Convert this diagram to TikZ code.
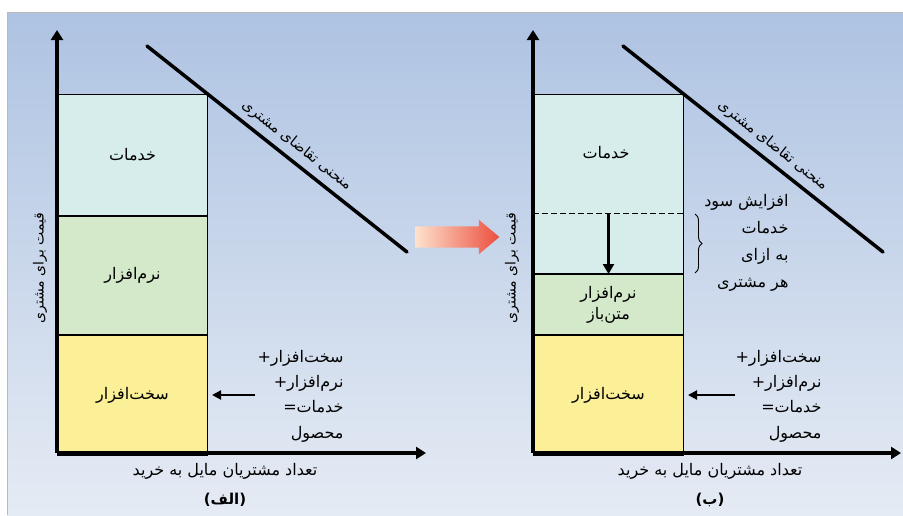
\documentclass[tikz,border=0pt]{standalone}
\usepackage{fontspec}
\newfontfamily\farsi[Script=Arabic]{DejaVu Sans}
\TeXXeTstate=1
\usetikzlibrary{arrows.meta,shapes.arrows,decorations.pathreplacing,positioning}
\definecolor{bgtop}{RGB}{174,195,226}
\definecolor{bgbottom}{RGB}{229,235,244}
\definecolor{svcfill}{RGB}{214,237,236}
\definecolor{swfill}{RGB}{212,233,202}
\definecolor{hwfill}{RGB}{251,239,152}
\definecolor{shiftlight}{RGB}{253,226,204}
\definecolor{shiftred}{RGB}{236,78,62}
\newcommand{\fatxt}[1]{{\farsi\beginR #1\endR}}

\begin{document}
\begin{tikzpicture}[x=1pt, y=-1pt,
  bar/.style={draw=black, line width=1pt, minimum width=150pt,
              inner sep=0pt, font=\farsi\fontsize{16}{21}\selectfont, align=center},
  axis/.style={line width=3.5pt, -{Triangle[width=12pt,length=10pt]}},
  demand/.style={line width=3.5pt, line cap=round},
  ptr/.style={line width=2pt, -{Triangle[width=9pt,length=9pt]}, shorten >=4pt},
  lbl/.style={font=\farsi\fontsize{16}{19}\selectfont, inner sep=1pt},
  curvelbl/.style={font=\farsi\fontsize{14.5}{17}\selectfont, inner sep=1pt},
  note/.style={font=\farsi\fontsize{16}{25.3}\selectfont, align=right, anchor=east},
  tag/.style={font=\farsi\bfseries\fontsize{15}{18}\selectfont},
]
\useasboundingbox (0,0) rectangle (903,515);
\fill[white] (0,0) rectangle (903,515);
\shade[top color=bgtop, bottom color=bgbottom] (7,12) rectangle (903,515);
\draw[gray!55, line width=0.8pt] (7,515) -- (7,12) -- (903,12);

% panel (a)
\node[bar, fill=svcfill, minimum height=121pt, anchor=north west] (svcA) at (57,94)
  {\fatxt{خدمات}};
\node[bar, fill=swfill, minimum height=118pt, below=0pt of svcA] (swA)
  {\fatxt{نرم^^^^200cافزار}};
\node[bar, fill=hwfill, minimum height=120pt, below=0pt of swA] (hwA)
  {\fatxt{سخت^^^^200cافزار}};

\coordinate (oA) at (57,453);
\coordinate (yA) at (57,30);
\coordinate (xA) at (426,453);
\draw[axis] (oA) -- (yA);
\draw[axis] (oA) -- (xA);

\coordinate (dA1) at (147,46);
\coordinate (dA2) at (407,252);
\draw[demand] (dA1) -- (dA2)
  node[curvelbl, pos=0.54, sloped, above=5pt] (curveA) {\fatxt{منحنی تقاضای مشتری}};

\node[note] (prodA) at (347,396)
  {+\fatxt{سخت^^^^200cافزار}\\+\fatxt{نرم^^^^200cافزار}\\=\fatxt{خدمات}\\\fatxt{محصول}};
\coordinate (pA) at (255,395);
\draw[ptr] (pA) -- (hwA.east |- pA);

\node[lbl, rotate=90, font=\farsi\fontsize{14}{17}\selectfont] (yLabA) at (40,268)
  {\fatxt{قیمت برای مشتری}};
\node[lbl] (xLabA) at (225,471) {\fatxt{تعداد مشتریان مایل به خرید}};
\node[tag] (tagA) at (225,500) {\fatxt{(الف)}};

% shift arrow
\node[single arrow, draw=none, inner xsep=0pt, inner ysep=10.5pt, minimum height=84pt,
      single arrow head extend=6.5pt, single arrow tip angle=80,
      left color=shiftlight, right color=shiftred] (shift) at (451,237) {};

% panel (b)
\node[bar, fill=svcfill, minimum height=179pt, anchor=north west] (svcB) at (533,94) {};
\node[bar, fill=swfill, minimum height=60pt, below=0pt of svcB] (swB)
  {\fatxt{نرم^^^^200cافزار}\\\fatxt{متن^^^^200cباز}};
\node[bar, fill=hwfill, minimum height=120pt, below=0pt of swB] (hwB)
  {\fatxt{سخت^^^^200cافزار}};
\node[lbl] (svcBtxt) at (606,153) {\fatxt{خدمات}};

\coordinate (cut) at (533,213);
\draw[dash pattern=on 6pt off 3pt, line width=0.9pt] (cut) -- (cut -| svcB.east);
\draw[line width=2.5pt, -{Triangle[width=11pt,length=10pt]}] (swB.north |- cut) -- (swB.north);
\coordinate (brTop) at (695,214);
\coordinate (brBot) at (695,273);
\draw[line width=0.9pt, decorate, decoration={brace, amplitude=7pt}] (brTop) -- (brBot);
\node[note, font=\farsi\fontsize{16}{27}\selectfont] (gain) at (792,243)
  {\fatxt{افزایش سود}\\\fatxt{خدمات}\\\fatxt{به ازای}\\\fatxt{هر مشتری}};

\coordinate (oB) at (533,453);
\coordinate (yB) at (533,30);
\coordinate (xB) at (901,453);
\draw[axis] (oB) -- (yB);
\draw[axis] (oB) -- (xB);

\coordinate (dB1) at (623,46);
\coordinate (dB2) at (883,252);
\draw[demand] (dB1) -- (dB2)
  node[curvelbl, pos=0.54, sloped, above=5pt] (curveB) {\fatxt{منحنی تقاضای مشتری}};

\node[note] (prodB) at (825,396)
  {+\fatxt{سخت^^^^200cافزار}\\+\fatxt{نرم^^^^200cافزار}\\=\fatxt{خدمات}\\\fatxt{محصول}};
\coordinate (pB) at (735,395);
\draw[ptr] (pB) -- (hwB.east |- pB);

\node[lbl, rotate=90, font=\farsi\fontsize{14}{17}\selectfont] (yLabB) at (512,268)
  {\fatxt{قیمت برای مشتری}};
\node[lbl] (xLabB) at (710,471) {\fatxt{تعداد مشتریان مایل به خرید}};
\node[tag] (tagB) at (710,500) {\fatxt{(ب)}};
\end{tikzpicture}
\end{document}
